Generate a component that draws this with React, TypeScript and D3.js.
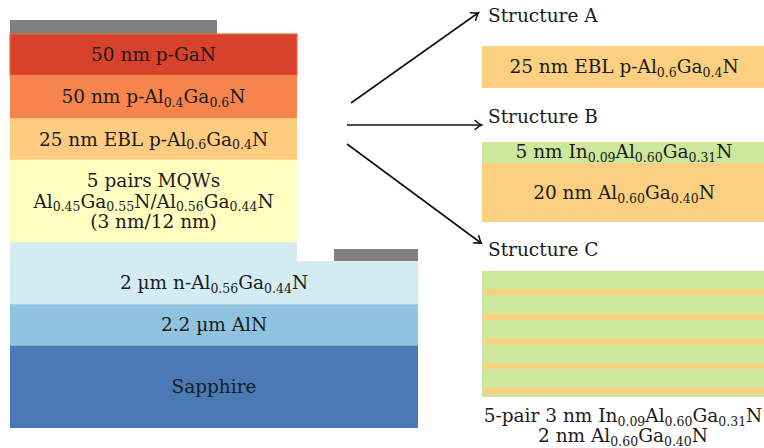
import React from "react";
import * as d3 from "d3";

// Layer stack of the device (top to bottom)
const layerLabels: string[][] = [
  ["50 nm p-GaN"],
  ["50 nm p-Al_{0.4}Ga_{0.6}N"],
  ["25 nm EBL p-Al_{0.6}Ga_{0.4}N"],
  ["5 pairs MQWs", "Al_{0.45}Ga_{0.55}N/Al_{0.56}Ga_{0.44}N", "(3 nm/12 nm)"],
  ["2 µm n-Al_{0.56}Ga_{0.44}N"],
  ["2.2 µm AlN"],
  ["Sapphire"],
];
const layerUnits = [1, 1.05, 1, 2, 1.5, 1, 2];

const structureNames = ["Structure A", "Structure B", "Structure C"];
const structureALabels = ["25 nm EBL p-Al_{0.6}Ga_{0.4}N"];
const structureBLabels = ["5 nm In_{0.09}Al_{0.60}Ga_{0.31}N", "20 nm Al_{0.60}Ga_{0.40}N"];
const structureCPairs = 5;
const structureCCaption = ["5-pair 3 nm In_{0.09}Al_{0.60}Ga_{0.31}N", "2 nm Al_{0.60}Ga_{0.40}N"];

const FONT = "'DejaVu Serif', serif";
const FS = 18.5;
const SUB = 12.5;
const SUB_SHIFT = 3.5;
const TXT = "#1a1a1a";

const C = {
  pgan: "#d8412a",
  palgan: "#f7844c",
  ebl: "#fdcc80",
  mqw: "#ffffc0",
  nalgan: "#d2ecf2",
  aln: "#90c3df",
  sapphire: "#4a7ab5",
  contact: "#808080",
  green: "#cde89c",
  orange: "#fdcf80",
};
const layerColors = [C.pgan, C.palgan, C.ebl, C.mqw, C.nalgan, C.aln, C.sapphire];

// Render "Al_{0.4}Ga" style strings with subscripts
function Rich({ s, x, y, anchor = "middle" }: { s: string; x: number; y: number; anchor?: string }) {
  const parts: { t: string; sub: boolean }[] = [];
  const re = /_\{([^}]*)\}/g;
  let last = 0;
  let m: RegExpExecArray | null;
  while ((m = re.exec(s))) {
    if (m.index > last) parts.push({ t: s.slice(last, m.index), sub: false });
    parts.push({ t: m[1], sub: true });
    last = m.index + m[0].length;
  }
  if (last < s.length) parts.push({ t: s.slice(last), sub: false });
  let shifted = false;
  return (
    <text x={x} y={y} textAnchor={anchor as any} fontFamily={FONT} fontSize={FS} fill={TXT}>
      {parts.map((p, i) => {
        let dy = 0;
        if (p.sub && !shifted) { dy = SUB_SHIFT; shifted = true; }
        else if (!p.sub && shifted) { dy = -SUB_SHIFT; shifted = false; }
        return (
          <tspan key={i} dy={dy} fontSize={p.sub ? SUB : FS}>
            {p.t}
          </tspan>
        );
      })}
    </text>
  );
}

function Arrow({ x1, y1, x2, y2 }: { x1: number; y1: number; x2: number; y2: number }) {
  const a = (Math.atan2(y2 - y1, x2 - x1) * 180) / Math.PI;
  return (
    <g stroke="#111" strokeWidth={1.6} fill="none">
      <line x1={x1} y1={y1} x2={x2} y2={y2} />
      <path
        transform={`translate(${x2},${y2}) rotate(${a})`}
        d="M-6,-4.5 Q-2,-1 0.5,0 Q-2,1 -6,4.5"
        strokeLinecap="round"
      />
    </g>
  );
}

export default function App() {
  const W = 764, H = 448;
  const stackTop = 34, stackBottom = 428;
  const totalUnits = d3.sum(layerUnits);
  const y = d3.scaleLinear().domain([0, totalUnits]).range([stackTop, stackBottom]);
  const starts = layerUnits.map((_, i) => d3.sum(layerUnits.slice(0, i)));

  const xL = 10, xMid = 297, xR = 418;
  const stepY = 261;

  // Structure C stripes
  const cTop = 271, cBot = 397, cX0 = 482, cX1 = 764;
  const stripe = d3.scaleLinear().domain([0, structureCPairs]).range([cTop + 18, cTop + 18 + 24.7 * structureCPairs]);

  return (
    <svg width={W} height={H} style={{ position: "absolute", left: 0, top: 0 }}>
      <rect width={W} height={H} fill="#fff" />
      {/* contacts */}
      <rect x={xL} y={20} width={217 - xL} height={14} fill={C.contact} />
      <rect x={334} y={249} width={xR - 334} height={12} fill={C.contact} />

      {layerLabels.map((lines, i) => {
        const y0 = y(starts[i]);
        const y1 = y(starts[i] + layerUnits[i]);
        const lower = i >= 4;
        let shape;
        if (i === 4) {
          shape = (
            <path
              d={`M${xL},${y0}H${xMid}V${stepY}H${xR}V${y1}H${xL}Z`}
              fill={layerColors[i]}
            />
          );
        } else {
          shape = (
            <rect
              x={xL}
              y={y0}
              width={(lower ? xR : xMid) - xL}
              height={y1 - y0}
              fill={layerColors[i]}
              stroke={i === 0 ? "#ec6a3e" : "none"}
              strokeWidth={i === 0 ? 1.2 : 0}
            />
          );
        }
        const cx = lower ? (xL + xR) / 2 : (xL + xMid) / 2;
        const top = i === 4 ? stepY : y0;
        const mid = (top + y1) / 2;
        const lh = 20.5;
        return (
          <g key={i}>
            {shape}
            {lines.map((l, j) => (
              <Rich key={j} s={l} x={cx} y={mid + 6.5 + (j - (lines.length - 1) / 2) * lh} />
            ))}
          </g>
        );
      })}

      {/* arrows */}
      <Arrow x1={351} y1={103} x2={478} y2={13} />
      <Arrow x1={347} y1={125} x2={481} y2={125} />
      <Arrow x1={347} y1={144} x2={481} y2={243} />

      <Rich s={structureNames[0]} x={488} y={22} anchor="start" />
      <Rich s={structureNames[1]} x={488} y={123} anchor="start" />
      <Rich s={structureNames[2]} x={488} y={256} anchor="start" />

      {/* Structure A */}
      <rect x={482} y={46} width={W - 482} height={42} fill={C.orange} />
      <Rich s={structureALabels[0]} x={624} y={73} />

      {/* Structure B */}
      <rect x={482} y={142} width={W - 482} height={21} fill={C.green} />
      <rect x={482} y={163} width={W - 482} height={59} fill={C.orange} />
      <Rich s={structureBLabels[0]} x={624} y={158} />
      <Rich s={structureBLabels[1]} x={624} y={199} />

      {/* Structure C */}
      <rect x={cX0} y={cTop} width={cX1 - cX0} height={cBot - cTop} fill={C.green} />
      {d3.range(structureCPairs).map((k) => (
        <rect key={k} x={cX0 + 1} y={stripe(k)} width={cX1 - cX0 - 1} height={6} fill={C.orange} />
      ))}
      <Rich s={structureCCaption[0]} x={623} y={422} />
      <Rich s={structureCCaption[1]} x={623} y={442} />
    </svg>
  );
}
